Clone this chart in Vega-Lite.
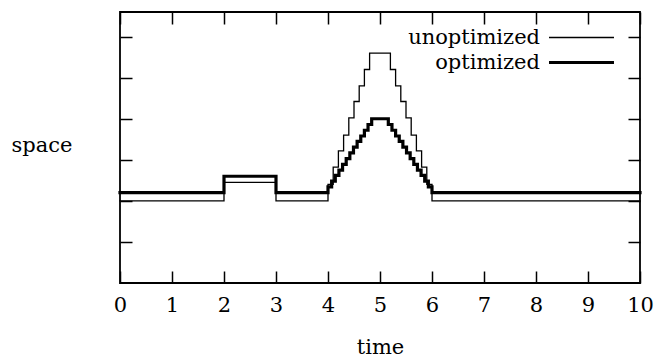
{
  "$schema": "https://vega.github.io/schema/vega-lite/v6.json",
  "width": 520,
  "height": 271,
  "autosize": {"type": "none"},
  "padding": {"left": 120, "top": 12, "right": 14, "bottom": 75},
  "background": "white",
  "config": {
    "font": "DejaVu Serif",
    "view": {"stroke": "black", "strokeWidth": 1.8},
    "axis": {
      "domain": false,
      "grid": false,
      "tickColor": "black",
      "tickWidth": 1.5,
      "tickSize": -12,
      "labelFont": "DejaVu Serif",
      "labelFontSize": 21,
      "labelColor": "black",
      "titleFont": "DejaVu Serif",
      "titleFontSize": 21,
      "titleFontWeight": "normal",
      "titleColor": "black"
    }
  },
  "data": {
    "values": [
      {"version": "unoptimized", "t": 0, "s": 2.0},
      {"version": "unoptimized", "t": 2, "s": 2.45},
      {"version": "unoptimized", "t": 3, "s": 2.0},
      {"version": "unoptimized", "t": 4.0, "s": 2.4},
      {"version": "unoptimized", "t": 4.1, "s": 2.82},
      {"version": "unoptimized", "t": 4.2, "s": 3.22},
      {"version": "unoptimized", "t": 4.3, "s": 3.6},
      {"version": "unoptimized", "t": 4.4, "s": 4.02},
      {"version": "unoptimized", "t": 4.5, "s": 4.42},
      {"version": "unoptimized", "t": 4.6, "s": 4.8},
      {"version": "unoptimized", "t": 4.7, "s": 5.2},
      {"version": "unoptimized", "t": 4.8, "s": 5.6},
      {"version": "unoptimized", "t": 5.2, "s": 5.2},
      {"version": "unoptimized", "t": 5.3, "s": 4.8},
      {"version": "unoptimized", "t": 5.4, "s": 4.42},
      {"version": "unoptimized", "t": 5.5, "s": 4.02},
      {"version": "unoptimized", "t": 5.6, "s": 3.6},
      {"version": "unoptimized", "t": 5.7, "s": 3.22},
      {"version": "unoptimized", "t": 5.8, "s": 2.82},
      {"version": "unoptimized", "t": 5.9, "s": 2.4},
      {"version": "unoptimized", "t": 6.0, "s": 2.0},
      {"version": "unoptimized", "t": 10, "s": 2.0},
      {"version": "optimized", "t": 0, "s": 2.2},
      {"version": "optimized", "t": 2, "s": 2.6},
      {"version": "optimized", "t": 3, "s": 2.2},
      {"version": "optimized", "t": 4.0, "s": 2.34},
      {"version": "optimized", "t": 4.07, "s": 2.48},
      {"version": "optimized", "t": 4.14, "s": 2.62},
      {"version": "optimized", "t": 4.21, "s": 2.75},
      {"version": "optimized", "t": 4.28, "s": 2.89},
      {"version": "optimized", "t": 4.35, "s": 3.03},
      {"version": "optimized", "t": 4.42, "s": 3.17},
      {"version": "optimized", "t": 4.49, "s": 3.31},
      {"version": "optimized", "t": 4.56, "s": 3.45},
      {"version": "optimized", "t": 4.63, "s": 3.58},
      {"version": "optimized", "t": 4.7, "s": 3.72},
      {"version": "optimized", "t": 4.77, "s": 3.86},
      {"version": "optimized", "t": 4.84, "s": 4.0},
      {"version": "optimized", "t": 5.16, "s": 3.86},
      {"version": "optimized", "t": 5.23, "s": 3.72},
      {"version": "optimized", "t": 5.3, "s": 3.58},
      {"version": "optimized", "t": 5.37, "s": 3.45},
      {"version": "optimized", "t": 5.44, "s": 3.31},
      {"version": "optimized", "t": 5.51, "s": 3.17},
      {"version": "optimized", "t": 5.58, "s": 3.03},
      {"version": "optimized", "t": 5.65, "s": 2.89},
      {"version": "optimized", "t": 5.72, "s": 2.75},
      {"version": "optimized", "t": 5.79, "s": 2.62},
      {"version": "optimized", "t": 5.86, "s": 2.48},
      {"version": "optimized", "t": 5.93, "s": 2.34},
      {"version": "optimized", "t": 6.0, "s": 2.2},
      {"version": "optimized", "t": 10, "s": 2.2}
    ]
  },
  "layer": [
    {
      "mark": {"type": "line", "interpolate": "step-after", "color": "black", "strokeJoin": "miter", "strokeCap": "square"},
      "encoding": {
        "x": {
          "field": "t", "type": "quantitative",
          "scale": {"domain": [0, 10], "nice": false},
          "axis": {"orient": "bottom", "values": [0, 1, 2, 3, 4, 5, 6, 7, 8, 9, 10], "labelPadding": 23, "labelFlush": false, "title": "time", "titlePadding": 21}
        },
        "y": {
          "field": "s", "type": "quantitative",
          "scale": {"domain": [0, 6.6], "nice": false, "zero": false},
          "axis": {"orient": "left", "values": [1, 2, 3, 4, 5, 6], "labels": false, "title": "space", "titleAngle": 0, "titleAlign": "right", "titleBaseline": "middle", "titleX": -48, "titleY": 133}
        },
        "strokeWidth": {
          "field": "version", "type": "nominal",
          "scale": {"domain": ["unoptimized", "optimized"], "range": [1.3, 3.2]},
          "legend": {
            "orient": "none", "legendX": 449, "legendY": 14, "title": null,
            "symbolType": "M-3,0H3", "symbolSize": 469, "symbolStrokeColor": "black", "symbolFillColor": "transparent",
            "labelAlign": "right", "labelOffset": -54, "labelFont": "DejaVu Serif", "labelFontSize": 21, "labelColor": "black",
            "padding": 0, "rowPadding": 2
          }
        }
      }
    },
    {
      "mark": {"type": "line", "interpolate": "step-after", "opacity": 0},
      "encoding": {
        "x": {
          "field": "t", "type": "quantitative",
          "axis": {"orient": "top", "values": [0, 1, 2, 3, 4, 5, 6, 7, 8, 9, 10], "labels": false, "title": null}
        },
        "y": {
          "field": "s", "type": "quantitative",
          "axis": {"orient": "right", "values": [1, 2, 3, 4, 5, 6], "labels": false, "title": null}
        },
        "detail": {"field": "version", "type": "nominal"}
      }
    }
  ],
  "resolve": {"axis": {"x": "independent", "y": "independent"}}
}
